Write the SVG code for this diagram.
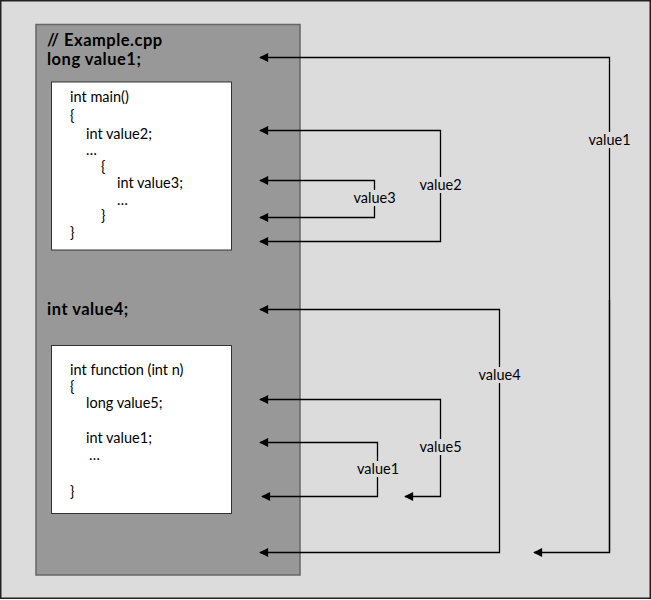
<svg xmlns="http://www.w3.org/2000/svg" width="651" height="600" viewBox="0 0 651 600">
<defs>
<marker id="ah" viewBox="0 0 10 10" refX="9" refY="5" markerWidth="10" markerHeight="9" markerUnits="userSpaceOnUse" orient="auto">
<path d="M0,0 L10,5 L0,10 Z" fill="#000"/>
</marker>
<style>
.code{font-family:Lato,"Liberation Sans",sans-serif;font-size:14.5px;fill:#000}
.bold{font-family:Lato,"Liberation Sans",sans-serif;font-size:16.5px;letter-spacing:0.5px;font-weight:bold;fill:#000}
.lbl{font-family:Lato,"Liberation Sans",sans-serif;font-size:14.5px;fill:#000;text-anchor:middle}
.conn{fill:none;stroke:#000;stroke-width:1.3}
.lblbg{fill:#dcdcdc}
.white{fill:#fff;stroke:#333;stroke-width:1}
</style>
</defs>
<rect x="0.75" y="0.75" width="649.5" height="597.5" fill="#dcdcdc" stroke="#222" stroke-width="1.5"/>
<g id="file">
<rect x="36" y="24.5" width="264" height="550.5" fill="#989898" stroke="#666" stroke-width="1.5"/>
<text class="bold" x="47" y="46">// Example.cpp</text>
<text class="bold" x="47" y="64.5">long value1;</text>
<text class="bold" x="47" y="315">int value4;</text>
</g>
<g id="main">
<rect class="white" x="51.5" y="82" width="180" height="168"/>
<text class="code" x="70" y="102">int main()</text>
<text class="code" x="70" y="121">{</text>
<text class="code" x="86" y="138.5">int value2;</text>
<text class="code" x="86" y="155">…</text>
<text class="code" x="101" y="172">{</text>
<text class="code" x="117" y="188">int value3;</text>
<text class="code" x="117" y="205">…</text>
<text class="code" x="101" y="221">}</text>
<text class="code" x="70" y="238">}</text>
</g>
<g id="function">
<rect class="white" x="51.5" y="345.5" width="180" height="168"/>
<text class="code" x="70" y="375">int function (int n)</text>
<text class="code" x="70" y="392">{</text>
<text class="code" x="86" y="408">long value5;</text>
<text class="code" x="86" y="443">int value1;</text>
<text class="code" x="89" y="460">…</text>
<text class="code" x="70" y="497">}</text>
</g>
<g id="connectors">
<path class="conn" marker-end="url(#ah)" d="M609.5,552.5 V57.5 H260"/>
<path class="conn" marker-end="url(#ah)" d="M609.5,300 V552.5 H534"/>
<path class="conn" marker-end="url(#ah)" d="M440.5,185 V130.5 H260"/>
<path class="conn" marker-end="url(#ah)" d="M440.5,185 V241.5 H260"/>
<path class="conn" marker-end="url(#ah)" d="M374.5,200 V180.5 H260"/>
<path class="conn" marker-end="url(#ah)" d="M374.5,200 V217.5 H260"/>
<path class="conn" marker-end="url(#ah)" d="M499.5,375 V309.5 H260"/>
<path class="conn" marker-end="url(#ah)" d="M499.5,375 V552.5 H260"/>
<path class="conn" marker-end="url(#ah)" d="M440.5,448 V399.5 H260"/>
<path class="conn" marker-end="url(#ah)" d="M440.5,448 V496.5 H405"/>
<path class="conn" marker-end="url(#ah)" d="M377.5,470 V442.5 H260"/>
<path class="conn" marker-end="url(#ah)" d="M377.5,470 V496.5 H262"/>
<rect class="lblbg" x="586" y="132" width="47" height="16"/>
<text class="lbl" x="609.5" y="145">value1</text>
<rect class="lblbg" x="416" y="177" width="49" height="16"/>
<text class="lbl" x="440.5" y="190">value2</text>
<rect class="lblbg" x="350" y="190" width="49" height="16"/>
<text class="lbl" x="374.5" y="203">value3</text>
<rect class="lblbg" x="475" y="367" width="49" height="16"/>
<text class="lbl" x="499.5" y="380">value4</text>
<rect class="lblbg" x="416" y="439" width="49" height="16"/>
<text class="lbl" x="440.5" y="452">value5</text>
<rect class="lblbg" x="355" y="461" width="47" height="16"/>
<text class="lbl" x="378" y="474">value1</text>
</g>
</svg>
